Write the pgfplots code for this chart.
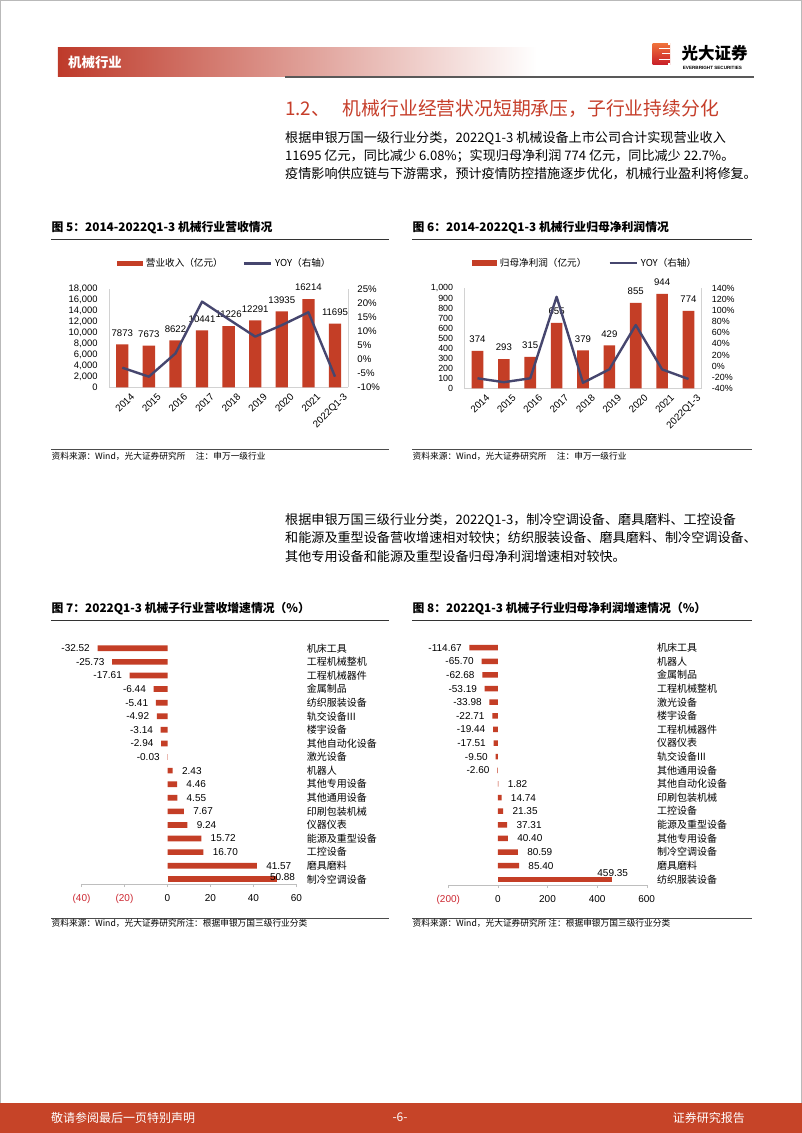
\documentclass[border=0pt]{standalone}
\usepackage{pgfplots}
\pgfplotsset{compat=1.18}
\usepackage{fontspec}
\setmainfont{Liberation Sans}
\newfontfamily\cjk{Noto Sans CJK SC}
\XeTeXlinebreaklocale "zh"
\XeTeXlinebreakskip=0pt plus 1pt minus 0.4pt
\definecolor{barred}{RGB}{196,62,38}
\definecolor{yoyc}{RGB}{70,70,110}
\definecolor{hdr}{RGB}{190,58,42}
\definecolor{titred}{RGB}{198,62,42}
\definecolor{foot}{RGB}{198,68,40}
\definecolor{axgray}{RGB}{210,210,210}
\definecolor{axgray2}{RGB}{190,190,190}
\definecolor{negred}{RGB}{205,40,50}
\definecolor{logoA}{RGB}{240,115,60}
\definecolor{logoB}{RGB}{200,30,40}
\newcommand\fs[1]{\fontsize{#1}{#1}\selectfont}
\pgfplotsset{
  /pgf/number format/assume math mode=true,
  pagechart/.style={scale only axis, anchor=south west,
     major tick length=0pt, tick label style={font=\fs{9.4}},
     axis line style={draw=axgray}, scaled y ticks=false,
     /pgf/number format/1000 sep={,}, clip=false},
  subchart/.style={scale only axis, anchor=south west,
     axis x line*=bottom, axis y line*=right,
     y axis line style={draw=none}, x axis line style={draw=axgray2},
     tick align=outside, major tick length=3pt,
     xtick style={draw=axgray2}, ytick style={draw=none},
     ytick={0,...,17},
     yticklabel style={font=\cjk\fs{10}, anchor=west, inner sep=0pt, xshift=7.2pt},
     xticklabel style={font=\fs{10}, inner sep=0pt, yshift=-7.4pt},
     clip=false},
  negbar/.style={xbar, bar shift=0pt, fill=barred, draw=none,
     point meta=explicit symbolic, nodes near coords={\pgfplotspointmeta},
     every node near coord/.style={font=\fs{10}, anchor=east, inner sep=0pt, xshift=-7.6pt}},
  posbar/.style={xbar, bar shift=0pt, fill=barred, draw=none,
     point meta=explicit symbolic, nodes near coords={\pgfplotspointmeta},
     every node near coord/.style={font=\fs{10}, anchor=west, inner sep=0pt, xshift=9.2pt}},
}
\begin{document}
\begin{tikzpicture}[x=1pt,y=1pt]
\useasboundingbox (0,0) rectangle (802,-1133);
\fill[white] (0,0) rectangle (802,-1133);
\draw[gray!55, line width=0.8pt] (0.4,-0.4) rectangle (801.6,-1132.6);
% ---------- header ----------
\shade[left color=hdr, right color=white] (57.8,-47.7) rectangle (537,-76);
\node[anchor=west, inner sep=0pt, text=white] at (68,-62.5) {\cjk\bfseries\fs{13.4}机械行业};
\shade[top color=logoA, bottom color=logoB] (652.7,-43) rectangle (670,-64.7);
\fill[white] (659,-48.2) rectangle (670,-49.2);
\fill[white] (662,-53.4) rectangle (670,-54.4);
\fill[white] (659,-58.6) rectangle (670,-59.6);
\fill[white] (668,-43) rectangle (670,-45);
\fill[white] (668,-62.7) rectangle (670,-64.7);
\node[anchor=west, inner sep=0pt] at (681.5,-53) {\cjk\bfseries\fs{16.5}光大证券};
\node[anchor=west, inner sep=0pt] at (682.7,-68) {\bfseries\fs{4.6}EVERBRIGHT SECURITIES};
\draw[line width=1.8pt, black!65] (285,-77) -- (754,-77);
% ---------- section title and text ----------
\node[anchor=west, inner sep=0pt, text=titred] at (285,-109) {\cjk\fs{18.8}1.2、};
\node[anchor=west, inner sep=0pt, text=titred] at (342.7,-109) {\cjk\fs{18.8}机械行业经营状况短期承压，子行业持续分化};
\node[anchor=west, inner sep=0pt] at (285,-138.3) {\cjk\fs{13.1}根据申银万国一级行业分类，2022Q1-3 机械设备上市公司合计实现营业收入};
\node[anchor=west, inner sep=0pt] at (285,-156.2) {\cjk\fs{13.1}11695 亿元，同比减少 6.08\%；实现归母净利润 774 亿元，同比减少 22.7\%。};
\node[anchor=west, inner sep=0pt] at (285,-174) {\cjk\fs{13.1}\makebox[466pt][s]{疫情影响供应链与下游需求，预计疫情防控措施逐步优化，机械行业盈利将修复。}};
\node[anchor=west, inner sep=0pt] at (285,-520) {\cjk\fs{13.1}\makebox[465pt][s]{根据申银万国三级行业分类，2022Q1-3，制冷空调设备、磨具磨料、工控设备}};
\node[anchor=west, inner sep=0pt] at (285,-538.5) {\cjk\fs{13.1}\makebox[465pt][s]{和能源及重型设备营收增速相对较快；纺织服装设备、磨具磨料、制冷空调设备、}};
\node[anchor=west, inner sep=0pt] at (285,-557) {\cjk\fs{13.1}其他专用设备和能源及重型设备归母净利润增速相对较快。};
% ---------- figure titles and notes ----------
\node[anchor=west, inner sep=0pt] at (51.5,-228) {\cjk\bfseries\fs{11.8}图 5：2014-2022Q1-3 机械行业营收情况};
\draw[line width=1pt, black!80] (51,-239) -- (388.5,-239);
\node[anchor=west, inner sep=0pt] at (412.5,-228) {\cjk\bfseries\fs{11.8}图 6：2014-2022Q1-3 机械行业归母净利润情况};
\draw[line width=1pt, black!80] (412,-239) -- (752,-239);
\draw[line width=0.8pt, black!70] (51,-449.3) -- (388.5,-449.3);
\node[anchor=west, inner sep=0pt] at (51.5,-456) {\cjk\fs{8.7}资料来源：Wind，光大证券研究所\hspace{1.2em}注：申万一级行业};
\draw[line width=0.8pt, black!70] (412,-449.3) -- (752,-449.3);
\node[anchor=west, inner sep=0pt] at (412.5,-456) {\cjk\fs{8.7}资料来源：Wind，光大证券研究所\hspace{1.2em}注：申万一级行业};
\node[anchor=west, inner sep=0pt] at (51.5,-609) {\cjk\bfseries\fs{11.8}图 7：2022Q1-3 机械子行业营收增速情况（\%）};
\draw[line width=1pt, black!80] (51,-620) -- (388.5,-620);
\node[anchor=west, inner sep=0pt] at (412.5,-609) {\cjk\bfseries\fs{11.8}图 8：2022Q1-3 机械子行业归母净利润增速情况（\%）};
\draw[line width=1pt, black!80] (412,-620) -- (752,-620);
\draw[line width=0.8pt, black!70] (51,-918.3) -- (388.5,-918.3);
\node[anchor=west, inner sep=0pt] at (51.5,-923.5) {\cjk\fs{8.7}资料来源：Wind，光大证券研究所注：根据申银万国三级行业分类};
\draw[line width=0.8pt, black!70] (412,-918.3) -- (752,-918.3);
\node[anchor=west, inner sep=0pt] at (412.5,-923.5) {\cjk\fs{8.7}资料来源：Wind，光大证券研究所 注：根据申银万国三级行业分类};
% ---------- footer ----------
\fill[foot] (0,-1103.3) rectangle (802,-1133);
\node[anchor=west, inner sep=0pt, text=white] at (51,-1117.5) {\cjk\fs{12}敬请参阅最后一页特别声明};
\node[inner sep=0pt, text=white] at (400,-1117.5) {\cjk\fs{12}-6-};
\node[anchor=east, inner sep=0pt, text=white] at (745,-1117.5) {\cjk\fs{12}证券研究报告};

% ================= Figure 5 =================
\begin{axis}[pagechart, at={(109pt,-387.3pt)}, width=239.3pt, height=98pt,
  xmin=-0.5, xmax=8.5, ymin=0, ymax=18000,
  axis lines*=left,
  ytick={0,2000,...,18000},
  yticklabel style={inner sep=0pt, xshift=-11.3pt},
  xtick={0,...,8}, xticklabels={2014,2015,2016,2017,2018,2019,2020,2021,2022Q1-3},
  xticklabel style={font=\fs{9.8}, rotate=45, anchor=north east, inner sep=0pt, xshift=2pt, yshift=-9pt},
  legend columns=2,
  legend style={at={(0.0334,1.263)}, anchor=west, draw=none, fill=none,
    inner sep=0pt, outer sep=0pt, font=\cjk\fs{9.6}, nodes={inner sep=0pt},
    /tikz/every odd column/.append style={column sep=3pt},
    /tikz/every even column/.append style={column sep=20pt}},
]
\addplot[ybar, bar width=12.3pt, fill=barred, draw=none,
  point meta=explicit symbolic, nodes near coords={\pgfplotspointmeta},
  every node near coord/.style={font=\fs{9.6}, anchor=south, inner sep=0pt, yshift=8pt},
  legend image code/.code={\fill[barred] (0pt,-2.9pt) rectangle (26pt,2.9pt);}]
coordinates {(0,7873)[7873] (1,7673)[7673] (2,8622)[8622] (3,10441)[10441] (4,11226)[11226]
  (5,12291)[12291] (6,13935)[13935] (7,16214)[16214] (8,11695)[11695]};
\addlegendentry{营业收入（亿元）}
\addlegendimage{legend image code/.code={\draw[yoyc, line width=2.4pt] (0pt,0pt) -- (27pt,0pt);}}
\addlegendentry{YOY（右轴）}
\end{axis}
\begin{axis}[pagechart, at={(109pt,-387.3pt)}, width=239.3pt, height=98pt,
  xmin=-0.5, xmax=8.5, ymin=-10, ymax=25,
  axis y line*=right, axis x line=none,
  ytick={-10,-5,...,25}, yticklabel={\pgfmathprintnumber{\tick}\%},
  yticklabel style={font=\fs{9.6}, anchor=west, inner sep=0pt, xshift=9pt}]
\addplot[yoyc, line width=2.4pt, line join=round, mark=none]
coordinates {(0,-3) (1,-6.2) (2,2.1) (3,20.6) (4,14.3) (5,8.1) (6,12.2) (7,16.8) (8,-6.2)};
\end{axis}

% ================= Figure 6 =================
\begin{axis}[pagechart, at={(464.3pt,-388.3pt)}, width=237.4pt, height=100pt,
  xmin=-0.5, xmax=8.5, ymin=0, ymax=1000,
  axis lines*=left,
  ytick={0,100,...,1000},
  yticklabel style={font=\fs{8.9}, inner sep=0pt, xshift=-11pt},
  xtick={0,...,8}, xticklabels={2014,2015,2016,2017,2018,2019,2020,2021,2022Q1-3},
  xticklabel style={font=\fs{9.8}, rotate=45, anchor=north east, inner sep=0pt, xshift=2pt, yshift=-9pt},
  legend columns=2,
  legend style={at={(0.0324,1.253)}, anchor=west, draw=none, fill=none,
    inner sep=0pt, outer sep=0pt, font=\cjk\fs{9.6}, nodes={inner sep=0pt},
    /tikz/every odd column/.append style={column sep=3pt},
    /tikz/every even column/.append style={column sep=22pt}},
]
\addplot[ybar, bar width=11.6pt, fill=barred, draw=none,
  point meta=explicit symbolic, nodes near coords={\pgfplotspointmeta},
  every node near coord/.style={font=\fs{9.6}, anchor=south, inner sep=0pt, yshift=8pt},
  legend image code/.code={\fill[barred] (0pt,-2.9pt) rectangle (25pt,2.9pt);}]
coordinates {(0,374)[374] (1,293)[293] (2,315)[315] (3,655)[655] (4,379)[379]
  (5,429)[429] (6,855)[855] (7,944)[944] (8,774)[774]};
\addlegendentry{归母净利润（亿元）}
\addlegendimage{legend image code/.code={\draw[yoyc, line width=2.4pt] (0pt,0pt) -- (27pt,0pt);}}
\addlegendentry{YOY（右轴）}
\end{axis}
\begin{axis}[pagechart, at={(464.3pt,-388.3pt)}, width=237.4pt, height=100pt,
  xmin=-0.5, xmax=8.5, ymin=-40, ymax=140,
  axis y line*=right, axis x line=none,
  ytick={-40,-20,...,140}, yticklabel={\pgfmathprintnumber{\tick}\%},
  yticklabel style={font=\fs{8.9}, anchor=west, inner sep=0pt, xshift=10pt}]
\addplot[yoyc, line width=2.4pt, line join=round, mark=none]
coordinates {(0,-22) (1,-29) (2,-22) (3,124.7) (4,-30) (5,-5.8) (6,73.9) (7,-6) (8,-23.3)};
\end{axis}

% ================= Figure 7 =================
\begin{axis}[subchart, at={(81.5pt,-884pt)}, width=215pt, height=242.5pt,
  xmin=-40, xmax=60, ymin=-0.346, ymax=17.5,
  xtick={-40,-20,...,60},
  xticklabels={\textcolor{negred}{(40)},\textcolor{negred}{(20)},0,20,40,60},
  yticklabels={制冷空调设备,磨具磨料,工控设备,能源及重型设备,仪器仪表,印刷包装机械,其他通用设备,其他专用设备,机器人,激光设备,其他自动化设备,楼宇设备,轨交设备III,纺织服装设备,金属制品,工程机械器件,工程机械整机,机床工具},
]
\addplot[negbar, bar width=5.7pt] coordinates {(-32.52,17)[-32.52] (-25.73,16)[-25.73] (-17.61,15)[-17.61]
  (-6.44,14)[-6.44] (-5.41,13)[-5.41] (-4.92,12)[-4.92] (-3.14,11)[-3.14] (-2.94,10)[-2.94] (-0.03,9)[-0.03]};
\addplot[posbar, bar width=5.7pt] coordinates {(2.43,8)[2.43] (4.46,7)[4.46] (4.55,6)[4.55] (7.67,5)[7.67]
  (9.24,4)[9.24] (15.72,3)[15.72] (16.70,2)[16.70] (41.57,1)[41.57]};
\addplot[xbar, bar shift=0pt, bar width=5.7pt, fill=barred, draw=none] coordinates {(50.88,0)};
\node[font=\fs{10}, inner sep=0pt] at (axis cs:53.5,0) [yshift=2.6pt] {50.88};
\end{axis}

% ================= Figure 8 =================
\begin{axis}[subchart, at={(448.3pt,-885pt)}, width=198.4pt, height=244.1pt,
  xmin=-200, xmax=600, ymin=-0.42, ymax=17.5,
  xtick={-200,0,...,600},
  xticklabels={\textcolor{negred}{(200)},0,200,400,600},
  yticklabels={纺织服装设备,磨具磨料,制冷空调设备,其他专用设备,能源及重型设备,工控设备,印刷包装机械,其他自动化设备,其他通用设备,轨交设备III,仪器仪表,工程机械器件,楼宇设备,激光设备,工程机械整机,金属制品,机器人,机床工具},
]
\addplot[negbar, bar width=5.5pt] coordinates {(-114.67,17)[-114.67] (-65.70,16)[-65.70] (-62.68,15)[-62.68]
  (-53.19,14)[-53.19] (-33.98,13)[-33.98] (-22.71,12)[-22.71] (-19.44,11)[-19.44] (-17.51,10)[-17.51]
  (-9.50,9)[-9.50] (-2.60,8)[-2.60]};
\addplot[posbar, bar width=5.5pt] coordinates {(1.82,7)[1.82] (14.74,6)[14.74] (21.35,5)[21.35]
  (37.31,4)[37.31] (40.40,3)[40.40] (80.59,2)[80.59] (85.40,1)[85.40]};
\addplot[xbar, bar shift=0pt, bar width=5.5pt, fill=barred, draw=none] coordinates {(459.35,0)};
\node[font=\fs{10}, inner sep=0pt] at (axis cs:463,0) [yshift=6.6pt] {459.35};
\end{axis}
\end{tikzpicture}
\end{document}
